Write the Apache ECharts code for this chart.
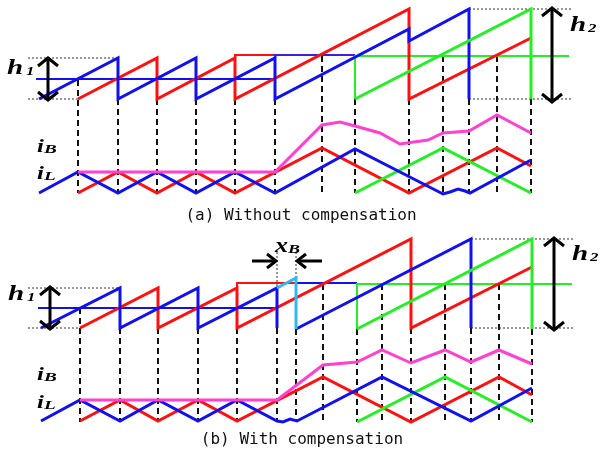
<!DOCTYPE html>
<html><head><meta charset="utf-8">
<script src="https://cdn.jsdelivr.net/npm/echarts@6/dist/echarts.min.js"></script>
<style>html,body{margin:0;padding:0;background:#fff}#c{width:600px;height:453px}</style>
</head><body><div id="c"></div>
<script>
// ---------- Panel (a): Without compensation ----------
const redRampA   = [[78,99],[157,58],[157,99],[235,58],[235,99],[409,9],[409,99],[531,38]];
const blueRampA  = [[39,99],[118,58],[118,99],[196,58],[196,99],[275,58],[275,99],[409,29],[409,41],[469,9],[469,99]];
const greenRampA = [[355,99],[531,9],[531,99]];
const blueRefA   = [[36,79],[275,79]];
const redRefA    = [[235,58],[235,55],[275,55]];
const blueRef2A  = [[275,58],[275,55],[355,55]];
const greenRefA  = [[355,99],[355,56],[569,56]];
const dashXA     = [78,118,157,196,235,275,322,355,409,443,469,497,531];
const dashTopA   = [80,99,99,99,99,99,56,99,99,56,99,56,99];
const dashBottomA = 193;
const pinkA  = [[78,172],[275,172],[322,125],[340,122],[355,126],[380,133],[400,144],[428,140],[443,133],[469,131],[497,115],[531,133]];
const redCurA   = [[78,193],[118,172],[157,193],[196,172],[235,193],[322,148],[409,193],[497,148],[531,166]];
const blueCurA  = [[39,193],[78,172],[118,193],[157,172],[196,193],[235,172],[275,193],[355,149],[443,194],[450,192],[458,189],[465,191],[470,193],[531,160]];
const greenCurA = [[355,193],[443,148],[531,193]];
const h1A = {x:48, top:58, bottom:100};
const h2A = {x:552, top:8, bottom:102};
const dotA = [[[28,58],[118,58]],[[28,99],[78,99]],[[469,9],[573,9]],[[469,99],[573,99]]];

// ---------- Panel (b): With compensation ----------
const redRampB   = [[80,328],[158,288],[158,328],[237,288],[237,328],[411,239],[411,328],[532,267]];
const blueRampB  = [[41,328],[120,288],[120,328],[198,288],[198,328],[277,288],[277,328]];
const cyanRampB  = [[277,288],[296,278],[296,329]];
const blueRamp2B = [[296,329],[471,239],[471,328]];
const greenRampB = [[357,329],[532,239],[532,329]];
const blueRefB   = [[38,308],[277,308]];
const redRefB    = [[237,288],[237,283],[296,283]];
const blueRef2B  = [[296,283],[357,283]];
const greenRefB  = [[357,329],[357,284],[572,284]];
const dashXB     = [80,120,158,198,237,277,296,323,357,382,411,445,471,499,532];
const dashTopB   = [308,328,328,328,328,328,329,284,329,284,328,284,328,284,329];
const dashBottomB = 422;
const pinkB  = [[80,400],[277,400],[323,365],[357,362],[382,350],[411,363],[445,350],[471,362],[499,350],[532,364]];
const redCurB   = [[80,421],[120,400],[158,421],[198,400],[237,421],[323,377],[411,422],[499,377],[532,395]];
const blueCurB  = [[41,421],[80,400],[120,421],[158,400],[198,421],[237,400],[277,421],[283,422],[290,419],[297,421],[382,377],[471,421],[532,388]];
const greenCurB = [[357,422],[445,377],[532,422]];
const h1B = {x:50, top:287, bottom:329};
const h2B = {x:554, top:238, bottom:330};
const dotB = [[[28,288],[120,288]],[[28,328],[80,328]],[[471,239],[575,239]],[[471,328],[575,328]],[[277,252],[277,288]],[[296,252],[296,278]]];
const xbArrowY = 261;
const xbLeft = [252,276];
const xbRight = [322,297];

// ---------- colours ----------
const RED='#ff1010', BLUE='#1010f0', GREEN='#22f022', PINK='#ff40d0', CYAN='#30b8f0', PURPLE='#3a22d8';

function ln(data, color, width, type, z){
  return {type:'line', data:data, symbol:'none', showSymbol:false, silent:true, animation:false, z:z||2,
    lineStyle:{color:color, width:width, type:type||'solid', cap:'butt', join:'miter'}};
}
const series = [];
function dashes(xs, tops, bottom){
  xs.forEach((x,i)=>series.push(ln([[x,tops[i]],[x,bottom]],'#111',2,[6,4],1)));
}
dashes(dashXA, dashTopA, dashBottomA);
dashes(dashXB, dashTopB, dashBottomB);
dotA.concat(dotB).forEach(s=>series.push(ln(s,'#333',1,[2,2],1)));
function arrowH(a){
  series.push(ln([[a.x,a.top+1],[a.x,a.bottom-1]],'#000',3,'solid',5));
  series.push(ln([[a.x-10,a.top+8],[a.x,a.top],[a.x+10,a.top+8]],'#000',3,'solid',5));
  series.push(ln([[a.x-10,a.bottom-8],[a.x,a.bottom],[a.x+10,a.bottom-8]],'#000',3,'solid',5));
}
[h1A,h2A,h1B,h2B].forEach(arrowH);
// xB arrows
series.push(ln([[xbLeft[0],xbArrowY],[xbLeft[1]-2,xbArrowY]],'#000',3,'solid',5));
series.push(ln([[xbLeft[1]-9,xbArrowY-7],[xbLeft[1],xbArrowY],[xbLeft[1]-9,xbArrowY+7]],'#000',3,'solid',5));
series.push(ln([[xbRight[0],xbArrowY],[xbRight[1]+2,xbArrowY]],'#000',3,'solid',5));
series.push(ln([[xbRight[1]+9,xbArrowY-7],[xbRight[1],xbArrowY],[xbRight[1]+9,xbArrowY+7]],'#000',3,'solid',5));
// reference (thin) lines
[[blueRefA,BLUE],[redRefA,RED],[blueRef2A,PURPLE],[greenRefA,GREEN],
 [blueRefB,BLUE],[redRefB,RED],[blueRef2B,BLUE],[greenRefB,GREEN]].forEach(p=>series.push(ln(p[0],p[1],2,'solid',2)));
// ramps
[[redRampA,RED],[blueRampA,BLUE],[greenRampA,GREEN],
 [redRampB,RED],[blueRampB,BLUE],[blueRamp2B,BLUE],[greenRampB,GREEN],[cyanRampB,CYAN]].forEach(p=>series.push(ln(p[0],p[1],3,'solid',3)));
// currents
[[redCurA,RED],[greenCurA,GREEN],[blueCurA,BLUE],[pinkA,PINK],
 [redCurB,RED],[greenCurB,GREEN],[blueCurB,BLUE],[pinkB,PINK]].forEach(p=>series.push(ln(p[0],p[1],3,'solid',3)));

function lbl(x,y,t,size,sx){
  return {type:'text', x:x, y:y, scaleX:sx, silent:true, z:10,
    style:{text:t, font:'italic bold '+size+'px "Liberation Serif"', fill:'#000', align:'left', verticalAlign:'bottom'}};
}
const graphics = [
  lbl(7,79,'h',20,1.45), lbl(26,78,'1',12,1.4),
  lbl(570,36,'h',20,1.45), lbl(588,35,'2',12,1.4),
  lbl(8,305,'h',20,1.45), lbl(27,304,'1',12,1.4),
  lbl(572,265,'h',20,1.45), lbl(590,264,'2',12,1.4),
  lbl(37,157,'i',19,1.3), lbl(44,156,'B',12,1.6),
  lbl(37,184,'i',19,1.3), lbl(44,183,'L',12,1.6),
  lbl(37,385,'i',19,1.3), lbl(44,384,'B',12,1.6),
  lbl(37,413,'i',19,1.3), lbl(44,412,'L',12,1.6),
  lbl(275,257,'x',20,1.3), lbl(288,256,'B',12,1.5),
  {type:'text', x:301, y:216, silent:true, style:{text:'(a) Without compensation', font:'16px "DejaVu Sans Mono"', fill:'#111', align:'center', verticalAlign:'middle'}},
  {type:'text', x:302, y:440, silent:true, style:{text:'(b) With compensation', font:'16px "DejaVu Sans Mono"', fill:'#111', align:'center', verticalAlign:'middle'}}
];

const chart = echarts.init(document.getElementById('c'), null, {renderer:'canvas'});
chart.setOption({
  animation:false,
  backgroundColor:'#fff',
  grid:{left:0,right:0,top:0,bottom:0},
  xAxis:{type:'value', min:0, max:600, show:false},
  yAxis:{type:'value', min:0, max:453, inverse:true, show:false},
  series:series,
  graphic:graphics
});
</script></body></html>
